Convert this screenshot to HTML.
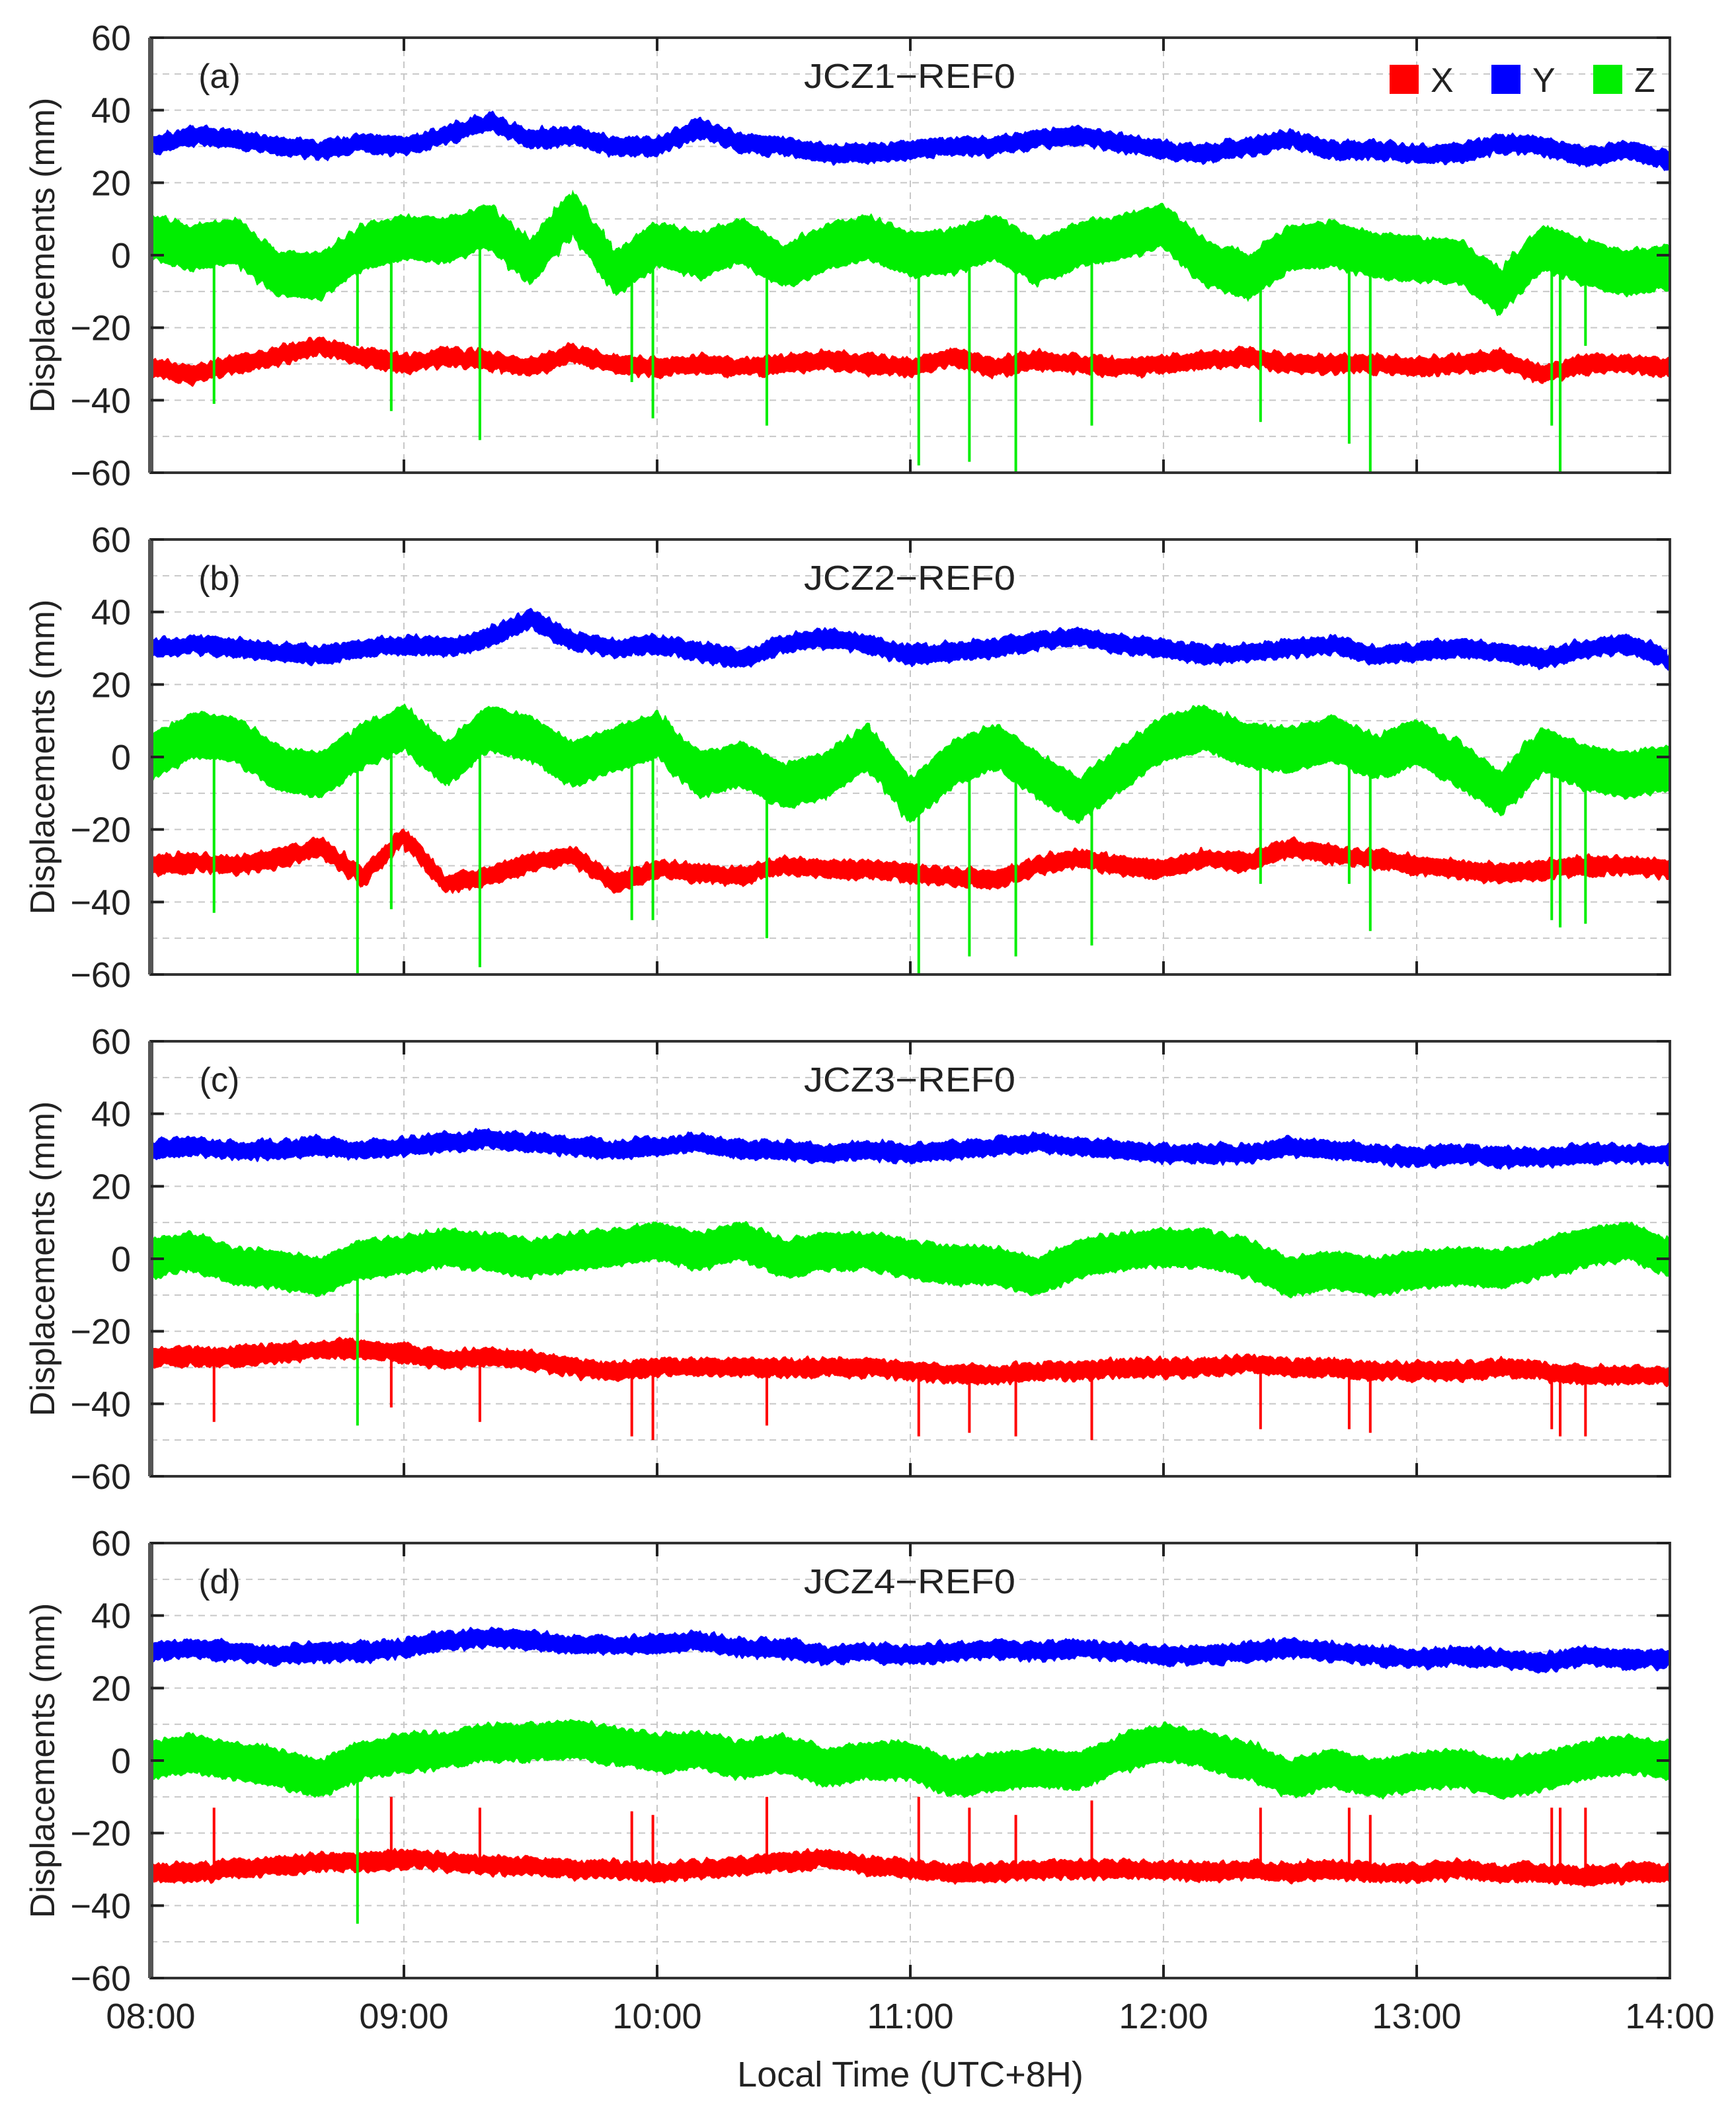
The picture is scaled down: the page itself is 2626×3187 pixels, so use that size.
<!DOCTYPE html>
<html><head><meta charset="utf-8"><style>
html,body{margin:0;padding:0;background:#fff;}
svg{display:block;font-family:"Liberation Sans",sans-serif;}
</style></head><body>
<svg id="fig" width="2626" height="3187" viewBox="0 0 2626 3187" xmlns="http://www.w3.org/2000/svg">
<defs>
<filter id="rough" x="-2%" y="-30%" width="104%" height="160%">
<feTurbulence type="fractalNoise" baseFrequency="0.12 0.02" numOctaves="2" seed="3" result="n"/>
<feDisplacementMap in="SourceGraphic" in2="n" scale="16" xChannelSelector="R" yChannelSelector="G"/>
</filter>
</defs>
</svg>
<script>
// ---- Data (10-minute samples, 08:00 .. 14:00) ----
const panelLabels = ["(a)","(b)","(c)","(d)"];
const panelTitles = ["JCZ1\u2212REF0","JCZ2\u2212REF0","JCZ3\u2212REF0","JCZ4\u2212REF0"];
const xTickLabels = ["08:00","09:00","10:00","11:00","12:00","13:00","14:00"];
const yTickValues = [60,40,20,0,-20,-40,-60];
const sampleMinutes = [0,10,20,30,40,50,60,70,80,90,100,110,120,130,140,150,160,170,180,190,200,210,220,230,240,250,260,270,280,290,300,310,320,330,340,350,360];

const yA = [30,33,32,30,29,31,30,33,37,32,33,30,30,35,31,30,28,28,29,30,30,32,33,31,29,28,30,32,29,29,28,28,31,30,27,29,26];
const zA = [5,2,4,-5,-6,2,5,4,8,-2,12,-5,3,0,4,-3,2,5,0,1,5,-2,3,5,8,-2,-6,2,3,0,-1,-2,-10,2,-2,-5,-3];
const xA = [-31,-33,-30,-28,-25,-28,-30,-28,-29,-31,-27,-30,-31,-30,-31,-30,-29,-30,-31,-28,-31,-29,-30,-31,-30,-29,-28,-30,-30,-30,-31,-30,-29,-33,-30,-30,-31];

const yB = [30,31,30,29,28,30,31,30,33,38,32,30,31,29,27,31,33,31,28,29,30,32,33,31,30,28,29,30,31,28,29,30,29,27,30,31,27];
const zB = [0,6,5,-3,-5,3,8,-2,8,5,-2,2,6,-5,-2,-8,-5,3,-12,-2,3,-5,-12,-3,5,8,3,2,5,0,4,-2,-10,2,-3,-5,-3];
const xB = [-30,-29,-30,-28,-25,-33,-22,-35,-33,-29,-27,-35,-31,-32,-33,-30,-31,-31,-32,-33,-34,-30,-28,-30,-31,-28,-29,-25,-27,-28,-30,-31,-32,-31,-30,-30,-31];

const yC = [30,31,30,30,31,30,31,32,33,32,31,30,31,32,30,30,29,30,29,30,31,32,31,30,29,29,29,31,30,29,28,29,28,28,29,29,29];
const zC = [0,2,-2,-3,-5,0,1,3,2,0,2,3,5,2,5,0,2,2,0,-2,-2,-5,0,2,3,3,0,-5,-3,-5,-3,-2,-3,0,3,5,0];
const xC = [-27,-27,-27,-26,-25,-25,-26,-28,-27,-28,-30,-31,-30,-30,-30,-30,-30,-30,-31,-32,-32,-31,-31,-30,-30,-30,-29,-30,-30,-31,-31,-31,-30,-31,-32,-32,-32];

const yD = [30,31,30,29,30,30,31,33,34,33,32,32,32,33,31,31,29,30,29,30,31,30,31,30,29,29,30,31,30,29,28,29,28,27,29,28,28];
const zD = [0,2,0,-2,-5,0,2,3,5,5,6,4,2,3,0,2,-2,0,0,-5,-3,-2,-3,2,5,3,0,-5,-2,-5,-3,-2,-5,-3,0,2,0];
const xD = [-31,-31,-30,-29,-28,-28,-27,-28,-29,-29,-30,-30,-31,-30,-29,-28,-27,-29,-30,-31,-31,-30,-30,-30,-30,-31,-30,-31,-30,-31,-31,-30,-31,-31,-32,-31,-31];

// spikes: minute offset from 08:00 and extreme value
const spikeMinutes = [15,49,57,78,114,119,146,182,194,205,223,263,284,289,332,334,340];
const spikeZA = [-41,-25,-43,-51,-35,-45,-47,-58,-57,-60,-47,-46,-52,-60,-47,-60,-25];
const spikeZB = [-43,-60,-42,-58,-45,-45,-50,-60,-55,-55,-52,-35,-35,-48,-45,-47,-46];
const spikeXC = [-45,-15,-41,-45,-49,-50,-46,-49,-48,-49,-50,-47,-47,-48,-47,-49,-49];
const spikeXD = [-13,-16,-10,-13,-14,-15,-10,-10,-13,-15,-11,-13,-13,-15,-13,-13,-13];
const spikeZCD = [-46,-45];

const panels = [
  {X:xA,Y:yA,Z:zA,zHalf:6,spikes:[{s:"Z",v:spikeZA}]},
  {X:xB,Y:yB,Z:zB,zHalf:6,spikes:[{s:"Z",v:spikeZB}]},
  {X:xC,Y:yC,Z:zC,zHalf:5,spikes:[{s:"X",v:spikeXC}],extra:spikeZCD[0]},
  {X:xD,Y:yD,Z:zD,zHalf:5,spikes:[{s:"X",v:spikeXD}],extra:spikeZCD[1]}
];

// ---- Layout ----
const NS="http://www.w3.org/2000/svg";
const svg=document.getElementById("fig");
const L=228,R=2526,H=658;
const tops=[57,816,1575,2334];
const colors={X:"#ff0000",Y:"#0000ff",Z:"#00ee00"};
function xs(min){return L+(R-L)*min/360;}
function mk(tag,attrs,parent){const e=document.createElementNS(NS,tag);for(const k in attrs)e.setAttribute(k,attrs[k]);(parent||svg).appendChild(e);return e;}

panels.forEach((p,pi)=>{
  const T=tops[pi];
  const ys=v=>T+H*(60-v)/120;
  const g=mk("g",{});
  
  
  for(let v=-50;v<=50;v+=10){
    const ln=mk("line",{x1:L,x2:R,y1:ys(v),y2:ys(v),stroke:"#c8c8c8","stroke-width":2,"stroke-dasharray":"10 8"},g);
    
    
  }
  for(let i=1;i<6;i++){
    const ln=mk("line",{x1:xs(i*60),x2:xs(i*60),y1:T,y2:T+H,stroke:"#c8c8c8","stroke-width":2,"stroke-dasharray":"10 8"},g);
    
    
  }
  const clip=mk("clipPath",{id:"clip"+pi},g);
  mk("rect",{x:L,y:T,width:R-L,height:H},clip);
  const sg=mk("g",{"clip-path":"url(#clip"+pi+")"},g);
  // series as bands
  ["Z","X","Y"].forEach(s=>{
    const arr=p[s];
    const half=s==="Z"?p.zHalf:2.3;
    const up=arr.map((v,i)=>(i?"L":"M")+xs(sampleMinutes[i]).toFixed(1)+" "+ys(v+half).toFixed(1)).join(" ");
    const dn=arr.slice().reverse().map((v,j)=>{const i=arr.length-1-j;return "L"+xs(sampleMinutes[i]).toFixed(1)+" "+ys(v-half).toFixed(1);}).join(" ");
    const pa=mk("path",{d:up+" "+dn+" Z",fill:colors[s],stroke:colors[s],"stroke-width":3,filter:"url(#rough)"},sg);
    
    
  });
  p.spikes.forEach(sp=>{
    sp.v.forEach((v,i)=>{
      const m=spikeMinutes[i];
      const base=p[sp.s][Math.round(m/10)];
      const ln=mk("line",{x1:xs(m),x2:xs(m),y1:ys(base),y2:ys(v),stroke:colors[sp.s],"stroke-width":4},sg);
      
      
    });
  });
  if(p.extra!==undefined){
    const m=spikeMinutes[1];
    const ln=mk("line",{x1:xs(m),x2:xs(m),y1:ys(p.Z[5]),y2:ys(p.extra),stroke:colors.Z,"stroke-width":4},sg);
    
    
  }
  const fr=mk("rect",{x:L,y:T,width:R-L,height:H,fill:"none",stroke:"#333","stroke-width":4},g);
  
  
  mk("line",{x1:L,x2:L,y1:T,y2:T+H,stroke:"#555","stroke-width":8},g);
  yTickValues.forEach(v=>{
    mk("line",{x1:L,x2:L+20,y1:ys(v),y2:ys(v),stroke:"#222","stroke-width":4},g);
    mk("line",{x1:R-20,x2:R,y1:ys(v),y2:ys(v),stroke:"#222","stroke-width":4},g);
    const t=mk("text",{x:198,y:ys(v)+19,"text-anchor":"end","font-size":54,fill:"#222"},g);
    t.textContent=(v<0?"\u2212":"")+Math.abs(v);
    
    
  });
  for(let i=1;i<6;i++){
    mk("line",{x1:xs(i*60),x2:xs(i*60),y1:T+H-20,y2:T+H,stroke:"#222","stroke-width":4},g);
    mk("line",{x1:xs(i*60),x2:xs(i*60),y1:T,y2:T+20,stroke:"#222","stroke-width":4},g);
  }
  const yt=mk("text",{x:0,y:0,"text-anchor":"middle","font-size":52,fill:"#222",transform:"translate(82,"+(T+H/2)+") rotate(-90)"},g);
  yt.textContent="Displacements (mm)";
  
  
  const pl=mk("text",{x:332,y:T+76,"text-anchor":"middle","font-size":52,fill:"#222"},g);
  pl.textContent=panelLabels[pi];
  
  
  const tt=mk("text",{x:1376,y:T+76,"text-anchor":"middle","font-size":52,fill:"#222",textLength:320,lengthAdjust:"spacingAndGlyphs"},g);
  tt.textContent=panelTitles[pi];
  
  
});

const legendKeys=["X","Y","Z"];
const legendX=[2102,2256,2410];
legendKeys.forEach((k,i)=>{
  const r=mk("rect",{x:legendX[i],y:98,width:44,height:44,fill:colors[k]});
  
  
  const t=mk("text",{x:legendX[i]+62,y:139,"font-size":52,fill:"#222"});
  t.textContent=k;
  
  
});

xTickLabels.forEach((lab,i)=>{
  const t=mk("text",{x:xs(i*60),y:3068,"text-anchor":"middle","font-size":54,fill:"#222"});
  t.textContent=lab;
  
  
});
const xt=mk("text",{x:1377,y:3156,"text-anchor":"middle","font-size":54,fill:"#222"});
xt.textContent="Local Time (UTC+8H)";


</script>
</body></html>
